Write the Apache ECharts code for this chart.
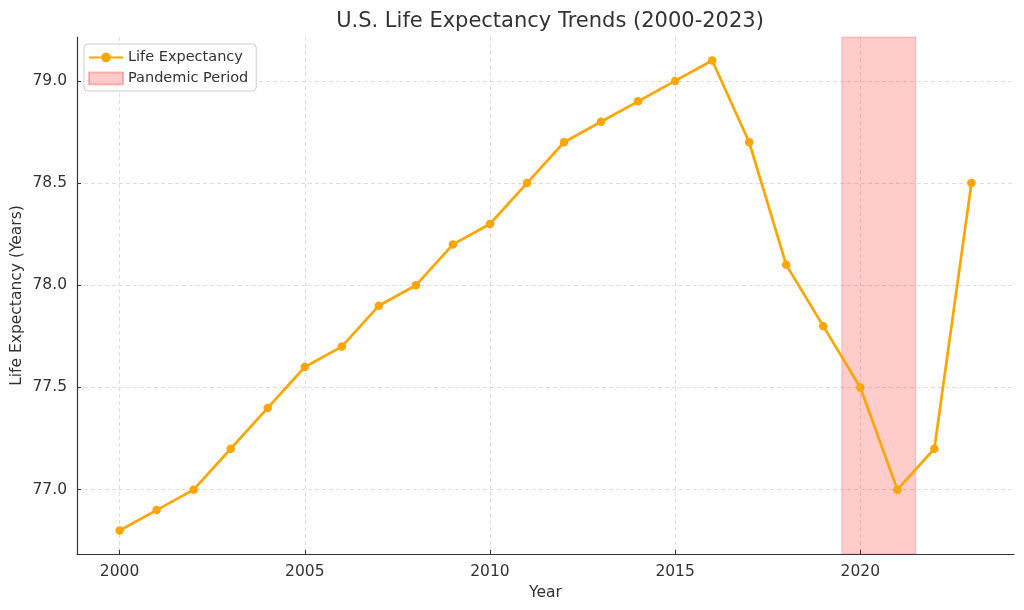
<!DOCTYPE html>
<html><head><meta charset="utf-8">
<script src="https://cdn.jsdelivr.net/npm/echarts@6/dist/echarts.min.js"></script>
<style>html,body{margin:0;padding:0;background:#fff}#c{width:1024px;height:610px}</style>
</head><body><div id="c"></div>
<script>
const years = [2000,2001,2002,2003,2004,2005,2006,2007,2008,2009,2010,2011,2012,2013,2014,2015,2016,2017,2018,2019,2020,2021,2022,2023];
const lifeExpectancy = [76.8,76.9,77.0,77.2,77.4,77.6,77.7,77.9,78.0,78.2,78.3,78.5,78.7,78.8,78.9,79.0,79.1,78.7,78.1,77.8,77.5,77.0,77.2,78.5];
const xTicks = [2000,2005,2010,2015,2020];
const yTicks = [77.0,77.5,78.0,78.5,79.0];
const pandemicStart = 2019.5, pandemicEnd = 2021.5;

const font = 'DejaVu Sans';
const chart = echarts.init(document.getElementById('c'), null, {renderer:'canvas'});
const gridLine = {show:true, lineStyle:{color:'#d6d6d6', type:[4,3], width:0.8}};
chart.setOption({
  animation:false,
  textStyle:{fontFamily:font},
  title:{text:'U.S. Life Expectancy Trends (2000-2023)', left:545, top:6, textAlign:'center',
    textStyle:{fontFamily:font, fontSize:21, fontWeight:'normal', color:'#333'}},
  grid:{left:77, right:10, top:37, bottom:56, outerBoundsMode:'none', containLabel:false},
  legend:{left:84, top:44, orient:'vertical', backgroundColor:'rgba(255,255,255,0.85)', borderColor:'#cccccc', borderWidth:1, borderRadius:4,
    padding:[6,8,5,4], itemGap:6, itemWidth:34, itemHeight:12,
    textStyle:{fontFamily:font, fontSize:14.5, color:'#333'},
    data:[{name:'Life Expectancy'},{name:'Pandemic Period', icon:'rect'}]},
  xAxis:{type:'value', min:1998.85, max:2024.15,
    name:'Year', nameLocation:'middle', nameGap:28, nameTextStyle:{fontFamily:font, fontSize:15.5, color:'#333'},
    axisLine:{show:true, lineStyle:{color:'#333', width:1.2}},
    axisTick:{show:true, inside:true, length:4, customValues:xTicks, lineStyle:{color:'#333'}},
    axisLabel:{customValues:xTicks, fontFamily:font, fontSize:15.5, color:'#333', margin:10, formatter:v=>String(Math.round(v))},
    splitLine:Object.assign({customValues:xTicks}, gridLine)},
  yAxis:{type:'value', min:76.685, max:79.215,
    name:'Life Expectancy (Years)', nameLocation:'middle', nameGap:52, nameMoveOverlap:false, nameTextStyle:{fontFamily:font, fontSize:15.5, color:'#333'},
    axisLine:{show:true, lineStyle:{color:'#333', width:1.2}},
    axisTick:{show:true, inside:true, length:4, customValues:yTicks, lineStyle:{color:'#333'}},
    axisLabel:{customValues:yTicks, fontFamily:font, fontSize:15.5, color:'#333', margin:10, formatter:v=>v.toFixed(1)},
    splitLine:Object.assign({customValues:yTicks}, gridLine)},
  series:[
    {name:'Pandemic Period', type:'line', data:[], itemStyle:{color:'rgba(255,0,0,0.2)', borderColor:'rgba(255,0,0,0.25)', borderWidth:1},
     markArea:{silent:true, itemStyle:{color:'rgba(255,0,0,0.2)', borderColor:'rgba(230,0,0,0.2)', borderWidth:1},
       data:[[{xAxis:pandemicStart},{xAxis:pandemicEnd}]]}},
    {name:'Life Expectancy', type:'line', data:years.map((y,i)=>[y,lifeExpectancy[i]]),
     symbol:'circle', symbolSize:8.5, lineStyle:{color:'#FFA500', width:2.7}, itemStyle:{color:'#FFA500'}, z:5}
  ]
});
</script></body></html>
